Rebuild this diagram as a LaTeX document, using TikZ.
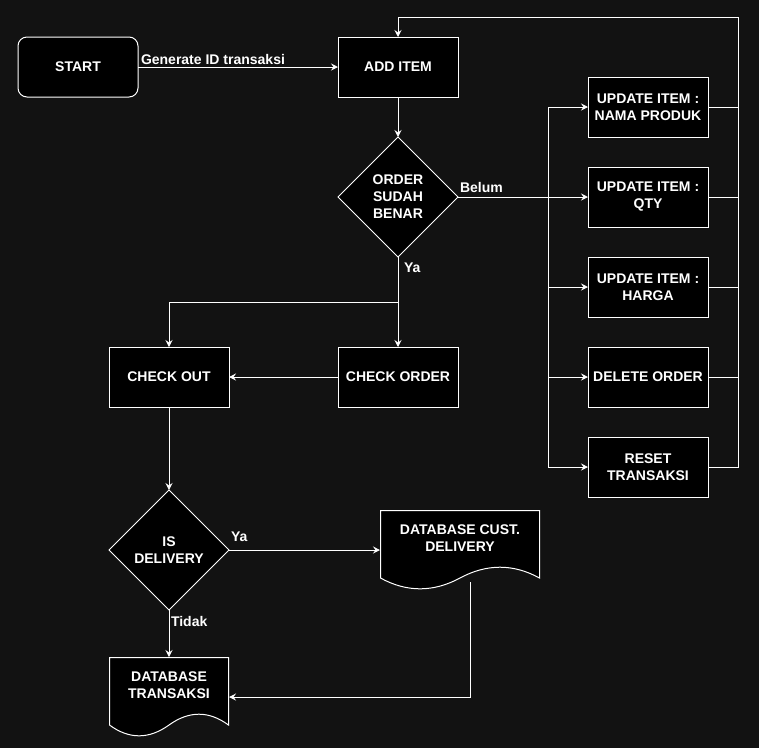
\documentclass[tikz,border=0pt]{standalone}
\usepackage{fontspec}
\setmainfont{Liberation Sans}
\usepackage{xcolor}
\usetikzlibrary{shapes.geometric, arrows.meta, positioning, calc}
\definecolor{canvas}{HTML}{121212}

\begin{document}
\begin{tikzpicture}[
    x=1pt, y=1pt,
    node distance=30pt,
    every node/.style={align=center, text=white, outer sep=0pt, font=\bfseries\fontsize{14}{17}\selectfont},
    startbox/.style={rectangle, rounded corners=9pt, minimum width=120pt, minimum height=60pt, draw=white, fill=black, line width=1pt},
    procbox/.style={rectangle, minimum width=120pt, minimum height=60pt, draw=white, fill=black, line width=1pt},
    decision/.style={diamond, aspect=1, inner sep=0pt, minimum width=120pt, minimum height=120pt, draw=white, fill=black, line width=1pt},
    docbox/.style={rectangle, minimum width=160pt, minimum height=80pt, text depth=24pt, fill=canvas,
        path picture={
            \draw[white, fill=black, line width=1pt]
                let \p1=(path picture bounding box.south west), \p2=(path picture bounding box.north east),
                    \n1={\x2-\x1}, \n2={0.3*(\y2-\y1)} in
                (\x1+0.5pt,\y1+0.5*\n2) -- (\x1+0.5pt,\y2-0.5pt) -- (\x2-0.5pt,\y2-0.5pt) -- (\x2-0.5pt,\y1+0.5*\n2)
                .. controls (\x1+0.8333*\n1,\y1+1.1*\n2) and (\x1+0.6667*\n1,\y1+1.1*\n2) .. (\x1+0.5*\n1,\y1+0.5*\n2)
                .. controls (\x1+0.3333*\n1,\y1-0.1*\n2) and (\x1+0.1667*\n1,\y1-0.1*\n2) .. (\x1+0.5pt,\y1+0.5*\n2) -- cycle;
        }},
    lbl/.style={inner sep=2pt},
    line/.style={draw=white, line width=1pt},
    arrow/.style={draw=white, line width=1pt, -{Stealth[length=7pt, width=7pt, inset=2.5pt]}}
]

% Canvas
\path[use as bounding box, fill=canvas] (0,0) rectangle (759,-748);

% Main flow
\node (start) [startbox] at (78,-67) {START};
\node (additem) [procbox, right=200pt of start] {ADD ITEM};
\node (order) [decision, below=40pt of additem] {ORDER\\SUDAH\\BENAR};
\node (checkorder) [procbox, below=90pt of order] {CHECK ORDER};
\node (checkout) [procbox, left=109pt of checkorder] {CHECK OUT};
\node (isdelivery) [decision, below=83pt of checkout] {IS\\DELIVERY};

% Databases
\node (dbcust) [docbox, right=151pt of isdelivery] {DATABASE CUST.\\DELIVERY};
\node (dbtrans) [docbox, minimum width=120pt, below=47pt of isdelivery] {DATABASE\\TRANSAKSI};

% Edit options
\node (updqty) [procbox, right=130pt of order] {UPDATE ITEM :\\QTY};
\node (updnama) [procbox, above=of updqty] {UPDATE ITEM :\\NAMA PRODUK};
\node (updharga) [procbox, below=of updqty] {UPDATE ITEM :\\HARGA};
\node (delorder) [procbox, below=of updharga] {DELETE ORDER};
\node (reset) [procbox, below=of delorder] {RESET\\TRANSAKSI};

% Bends
\coordinate (busL) at ($(order.east)+(90,0)$);
\coordinate (busR) at ($(updnama.east)+(30,0)$);
\coordinate (looptop) at ($(additem.north)+(0,20)$);
\coordinate (yasplit) at ($(order.south)!0.5!(checkorder.north)$);
\coordinate (dbout) at ($(dbcust.south)+(10,8)$);

% Arrows
\draw [arrow] (start) -- node[lbl, above right, pos=0, xshift=1pt] {Generate ID transaksi} (additem);
\draw [arrow] (additem) -- (order);
\draw [arrow] (order) -- node[lbl, above right, pos=0, yshift=2pt] {Belum} (updqty);
\draw [line] (busL |- updnama) -- (busL |- reset);
\foreach \n in {updnama, updharga, delorder, reset}
    \draw [arrow] (busL |- \n) -- (\n);
\foreach \n in {updnama, updqty, updharga, delorder}
    \draw [line] (\n) -- (busR |- \n);
\draw [arrow] (reset) -| (looptop -| busR) -- (looptop) -- (additem);

\draw [arrow] (order) -- node[lbl, below right, pos=0, xshift=4pt, yshift=-4pt] {Ya} (checkorder);
\draw [arrow] (yasplit) -| (checkout);
\draw [arrow] (checkorder) -- (checkout);
\draw [arrow] (checkout) -- (isdelivery);
\draw [arrow] (isdelivery) -- node[lbl, above right, pos=0, yshift=6pt] {Ya} (dbcust);
\draw [arrow] (isdelivery) -- node[lbl, below right, pos=0, yshift=-4pt] {Tidak} (dbtrans);
\draw [arrow] (dbout) |- (dbtrans);

\end{tikzpicture}
\end{document}
